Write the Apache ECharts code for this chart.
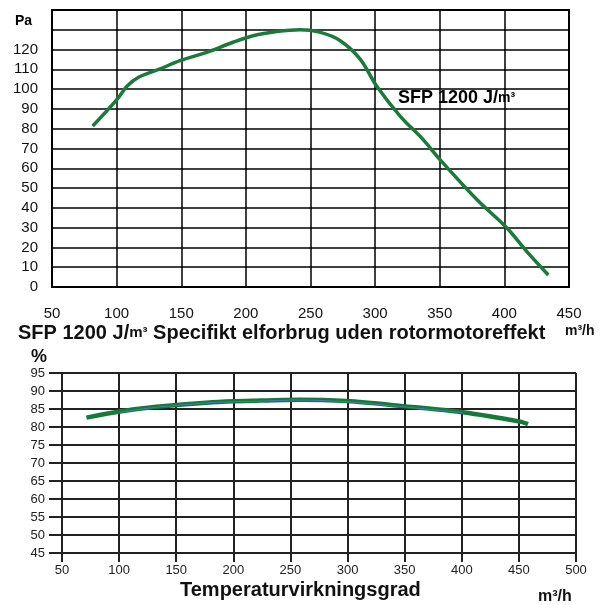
<!DOCTYPE html>
<html><head><meta charset="utf-8">
<script src="https://cdn.jsdelivr.net/npm/echarts@6/dist/echarts.min.js"></script>
<style>html,body{margin:0;padding:0;background:#fff}#c{width:614px;height:605px}</style>
</head><body><div id="c"></div>
<script>
// Top chart: pressure (Pa) vs airflow (m3/h)
const paFlow = [81.5,100.5,108,117,133.6,149,169.7,190,205.6,224,242,257,273,288.4,301,319.3,337,350,378.7,402,417.4,434];
const paValue = [81.4,95,101.5,106,110.2,114.4,118.6,123.7,127,129.1,130,128.8,124.5,115.2,101.7,86.4,74.6,64.5,44.2,29.8,17.9,6.1];
const paTicksX = [50,100,150,200,250,300,350,400,450];
const paTicksY = [0,10,20,30,40,50,60,70,80,90,100,110,120];
// Bottom chart: temperature efficiency (%) vs airflow (m3/h)
const effFlow = [71.4,100.5,132.7,182,217,258,299,348.6,401,451,458];
const effValue = [82.6,84.3,85.6,86.9,87.3,87.6,87.2,85.8,84.1,81.5,80.8];
const effFlowB = [100.5,132.7,182,217,258,299,348.6,401];
const effValueB = [84.1,85.5,86.8,87.1,87.5,87.0,85.6,84.0];

const chart = echarts.init(document.getElementById('c'));
const F = 'Liberation Sans, Arial, sans-serif';
const pair = (xs, ys) => xs.map((x, i) => [x, ys[i]]);
chart.setOption({
  animation: false,
  grid: [
    {left: 52, right: 45, top: 10, bottom: 318, show: true, borderColor: '#000', borderWidth: 2, backgroundColor: 'transparent'},
    {left: 62, right: 38, top: 373, bottom: 52, show: false}
  ],
  xAxis: [
    {gridIndex: 0, type: 'value', min: 50, max: 450, interval: 50,
     axisLine: {show: true, lineStyle: {color: '#000', width: 2}}, axisTick: {show: false},
     axisLabel: {margin: 19, fontFamily: F, fontSize: 15, color: '#111',
       formatter: v => paTicksX.includes(v) ? String(v) : ''},
     splitLine: {show: true, lineStyle: {color: '#000', width: 1.5}}},
    {gridIndex: 1, type: 'value', min: 50, max: 500, interval: 50,
     axisLine: {show: true, lineStyle: {color: '#222', width: 2}},
     axisTick: {show: true, length: 9, lineStyle: {color: '#222', width: 2}},
     axisLabel: {margin: 11, fontFamily: F, fontSize: 13, color: '#222'},
     splitLine: {show: true, lineStyle: {color: '#222', width: 2}}}
  ],
  yAxis: [
    {gridIndex: 0, type: 'value', min: 0, max: 140, interval: 10,
     axisLine: {show: true, lineStyle: {color: '#000', width: 2}}, axisTick: {show: false},
     axisLabel: {margin: 14, fontFamily: F, fontSize: 15, color: '#111',
       formatter: v => paTicksY.includes(v) ? String(v) : ''},
     splitLine: {show: true, lineStyle: {color: '#000', width: 1.5}}},
    {gridIndex: 1, type: 'value', min: 45, max: 95, interval: 5,
     axisLine: {show: true, lineStyle: {color: '#222', width: 2}},
     axisTick: {show: true, length: 13, lineStyle: {color: '#222', width: 2}},
     axisLabel: {margin: 17, fontFamily: F, fontSize: 13, color: '#222'},
     splitLine: {show: true, lineStyle: {color: '#222', width: 2}}}
  ],
  series: [
    {type: 'line', xAxisIndex: 0, yAxisIndex: 0, data: pair(paFlow, paValue), smooth: 0.35,
     showSymbol: false, lineStyle: {color: '#1a7a3a', width: 3.5}},
    {type: 'line', xAxisIndex: 1, yAxisIndex: 1, data: pair(effFlow, effValue), smooth: 0.3,
     showSymbol: false, lineStyle: {color: '#137a38', width: 4.5}},
    {type: 'line', xAxisIndex: 1, yAxisIndex: 1, data: pair(effFlowB, effValueB), smooth: 0.3,
     showSymbol: false, lineStyle: {color: '#4a78b8', width: 1}}
  ],
  graphic: [
    {type: 'text', left: 15, top: 14, style: {text: 'Pa', fontFamily: F, fontWeight: 'bold', fontSize: 14, fill: '#000'}},
    {type: 'text', left: 398, top: 89, style: {
      text: '{b|SFP 1200 J/}{s|m³}', fill: '#000', fontFamily: F,
      rich: {b: {fontFamily: F, fontWeight: 'bold', fontSize: 18, fill: '#000'},
             s: {fontFamily: F, fontWeight: 'bold', fontSize: 14, fill: '#000'}}}},
    {type: 'text', left: 18, top: 323, style: {
      text: '{b|SFP 1200 J/}{s|m³}{b| Specifikt elforbrug uden rotormotoreffekt}', fontFamily: F,
      rich: {b: {fontFamily: F, fontWeight: 'bold', fontSize: 20, fill: '#111'},
             s: {fontFamily: F, fontWeight: 'bold', fontSize: 15, fill: '#111'}}}},
    {type: 'text', left: 565, top: 324, style: {text: 'm³/h', fontFamily: F, fontWeight: 'bold', fontSize: 14, fill: '#111'}},
    {type: 'text', left: 31, top: 348, style: {text: '%', fontFamily: F, fontWeight: 'bold', fontSize: 18, fill: '#111'}},
    {type: 'text', left: 180, top: 580, style: {text: 'Temperaturvirkningsgrad', fontFamily: F, fontWeight: 'bold', fontSize: 20, fill: '#111'}},
    {type: 'text', left: 538, top: 589, style: {text: 'm³/h', fontFamily: F, fontWeight: 'bold', fontSize: 16, fill: '#111'}}
  ]
});
</script></body></html>
